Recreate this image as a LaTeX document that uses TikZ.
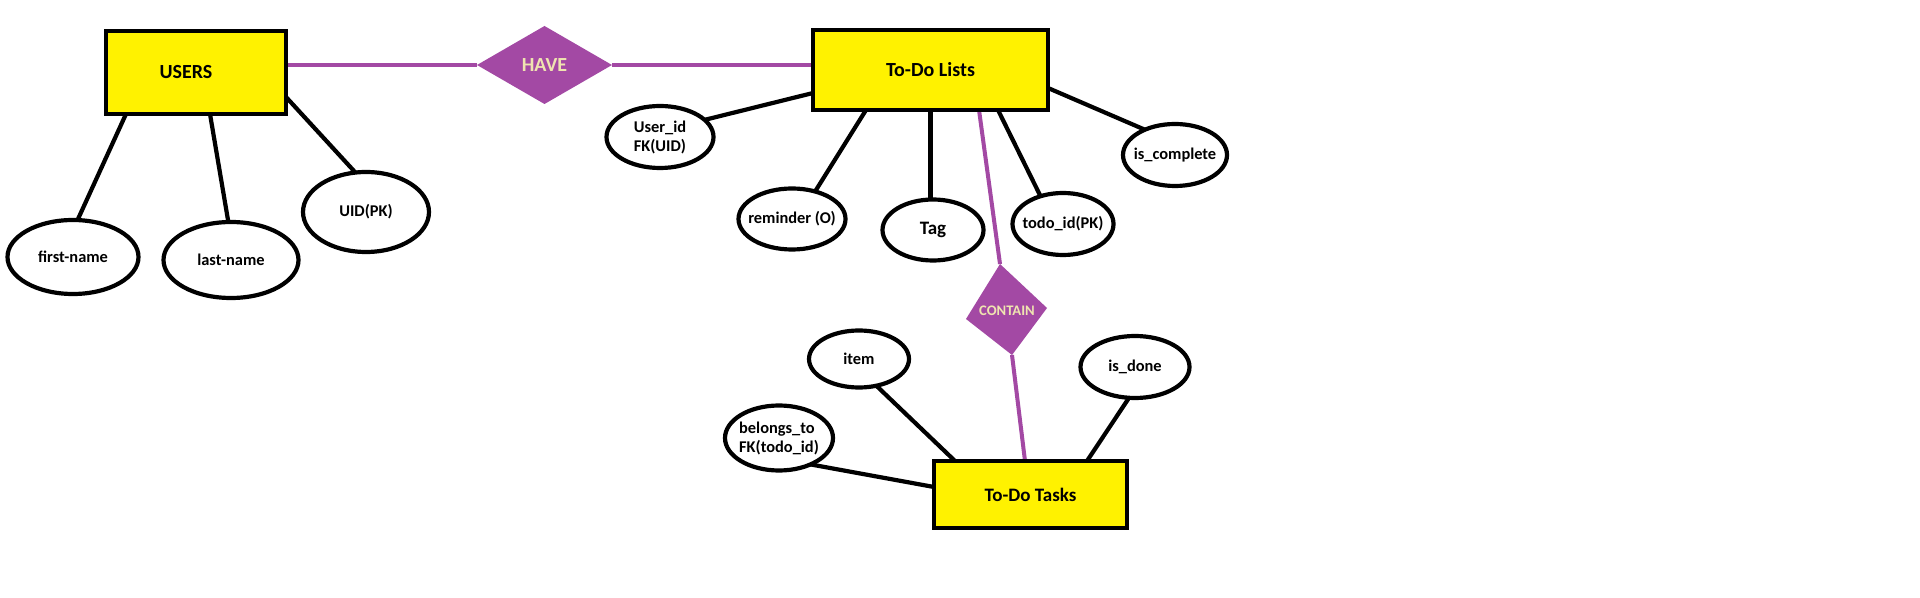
\documentclass[tikz,border=0pt]{standalone}
\usepackage{fontspec}
\setmainfont{Carlito}
\usetikzlibrary{shapes.geometric,backgrounds}
\definecolor{erpurple}{HTML}{A349A4}
\definecolor{eryellow}{HTML}{FFF200}
\definecolor{ertan}{HTML}{EFE4B0}
\begin{document}
\begin{tikzpicture}[x=0.5pt,y=-0.5pt,
  entity/.style={draw=black, line width=2.3pt, fill=eryellow, inner sep=0pt, outer sep=0pt,
    font=\fontsize{10}{12}\selectfont\bfseries},
  attr/.style={ellipse, draw=black, line width=2.1pt, fill=white, inner xsep=-6pt, inner ysep=-2pt,
    outer sep=0pt, font=\fontsize{8.2}{9.5}\selectfont\bfseries, align=center},
  relship/.style={diamond, fill=erpurple, inner sep=0pt, outer sep=0pt, text=ertan,
    font=\fontsize{10}{12}\selectfont\bfseries},
  conn/.style={line width=2.1pt, draw=black},
  relconn/.style={line width=2pt, draw=erpurple}]
\useasboundingbox (0,0) rectangle (1920,598);

% entities
\node[entity, minimum width=90pt, minimum height=41.5pt] (users) at (196,72.5) {USERS\hspace*{10pt}};
\node[entity, minimum width=117.5pt, minimum height=40pt] (tdl) at (930.5,70) {To-Do Lists};
\node[entity, minimum width=96.5pt, minimum height=33.5pt, font=\fontsize{9.5}{11}\selectfont\bfseries] (tasks) at (1030.5,494.5) {To-Do Tasks};

% relationship HAVE
\node[relship, minimum width=67.5pt, minimum height=39pt] (have) at (544.5,65) {HAVE};

% relationship CONTAIN (skewed diamond)
\coordinate (ct) at (1000,264);
\coordinate (cr) at (1047,308);
\coordinate (cb) at (1012,355);
\coordinate (cl) at (966,319);
\fill[erpurple] (ct) -- (cr) -- (cb) -- (cl) -- cycle;
\node[inner sep=0pt, text=ertan, font=\fontsize{7.3}{8}\selectfont\bfseries] (contain) at (1007,311) {CONTAIN};

% attributes
\node[attr, minimum width=65.5pt, minimum height=37pt] (fn) at (73,257) {first-name};
\node[attr, minimum width=67.5pt, minimum height=38pt] (ln) at (231,260) {last-name};
\node[attr, minimum width=63pt, minimum height=40pt] (uid) at (366,212) {UID(PK)};
\node[attr, minimum width=53.5pt, minimum height=31pt, align=left] (usrid) at (660,137) {User\_id\\FK(UID)};
\node[attr, minimum width=53.5pt, minimum height=30.5pt] (rem) at (792,219) {reminder (O)};
\node[attr, minimum width=50.5pt, minimum height=30.5pt, font=\fontsize{9.5}{11}\selectfont\bfseries] (tag) at (933,230) {Tag};
\node[attr, minimum width=50.5pt, minimum height=31pt] (tid) at (1063,224) {todo\_id(PK)};
\node[attr, minimum width=52pt, minimum height=31pt] (isc) at (1175,155) {is\_complete};
\node[attr, minimum width=50pt, minimum height=28.5pt] (item) at (859,359) {item};
\node[attr, minimum width=54.5pt, minimum height=31pt] (isd) at (1135,367) {is\_done};
\node[attr, minimum width=54pt, minimum height=32.5pt, align=left] (bel) at (779,438) {belongs\_to\\FK(todo\_id)};

\begin{pgfonlayer}{background}
\fill[white] (0,0) rectangle (1920,598);
% relationship lines
\draw[relconn] ([yshift=3.75pt]users.east) -- (have.west);
\draw[relconn] (have.east) -- ([yshift=2.5pt]tdl.west);
\draw[relconn] ([xshift=83pt]tdl.south west) -- (ct);
\draw[relconn] (cb) -- ([xshift=45.5pt]tasks.north west);
% attribute lines
\draw[conn] ([xshift=10pt]users.south west) -- (fn.83);
\draw[conn] ([xshift=52pt]users.south west) -- (ln.94);
\draw[conn] ([yshift=8.5pt]users.south east) -- (uid.105);
\draw[conn] ([yshift=-11.5pt]tdl.west) -- (usrid.21);
\draw[conn] ([xshift=26.5pt]tdl.south west) -- (rem.50);
\draw[conn] (tdl.south) -- (tdl.south |- tag.north);
\draw[conn] ([xshift=92.5pt]tdl.south west) -- (tid.129);
\draw[conn] ([yshift=-9pt]tdl.east) -- (isc.140);
\draw[conn] ([xshift=10.5pt]tasks.north west) -- (item.-57);
\draw[conn] ([xshift=76.5pt]tasks.north west) -- (isd.259);
\draw[conn] ([yshift=3.75pt]tasks.west) -- (bel.-40);
\end{pgfonlayer}
\end{tikzpicture}
\end{document}
